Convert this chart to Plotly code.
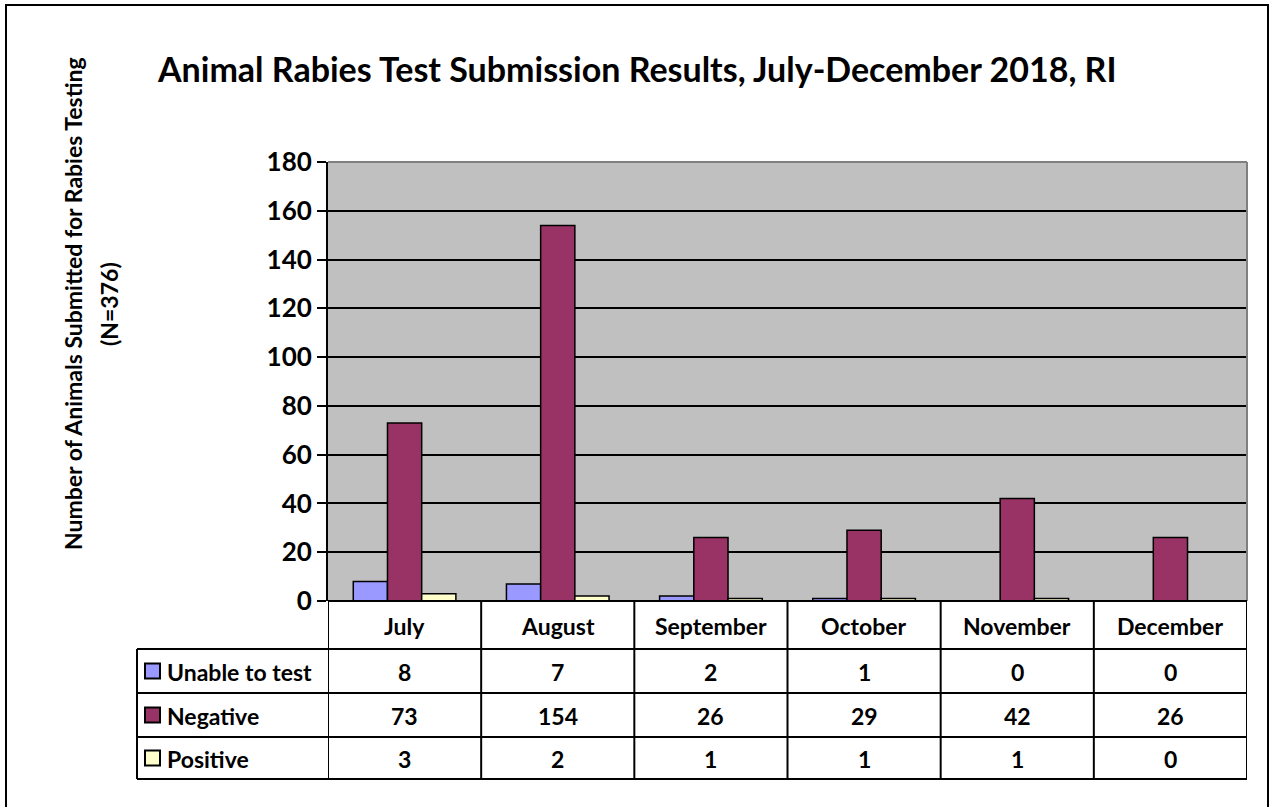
import plotly.graph_objects as go

months = ["July", "August", "September", "October", "November", "December"]
series_names = ["Unable to test", "Negative", "Positive"]
unable = [8, 7, 2, 1, 0, 0]
negative = [73, 154, 26, 29, 42, 26]
positive = [3, 2, 1, 1, 1, 0]
colors = ["#9999FF", "#993366", "#FFFFCC"]
y_ticks = [0, 20, 40, 60, 80, 100, 120, 140, 160, 180]
title = "Animal Rabies Test Submission Results, July-December 2018, RI"
ytitle_1 = "Number of Animals Submitted for Rabies Testing"
ytitle_2 = "(N=376)"

W, H = 1273, 807
L, R, T, B = 328, 1247, 162, 601
FONT = "Lato"

def px_x(p):
    return (p - L) / (R - L)

def px_y(p):
    return (B - p) / (B - T)

series_vals = [unable, negative, positive]
xs = list(range(len(months)))

fig = go.Figure()
for name, vals, col in zip(series_names, series_vals, colors):
    fig.add_trace(go.Bar(x=xs, y=vals, name=name, marker=dict(color=col, line=dict(color="black", width=1.5)),
                         showlegend=False))

shapes = []
annotations = []

# outer border
shapes.append(dict(type="rect", xref="paper", yref="paper", x0=px_x(6), x1=px_x(1268), y0=px_y(830), y1=px_y(5),
                   line=dict(color="black", width=2), fillcolor="rgba(0,0,0,0)", layer="below"))
# top & right borders of plot area (gray)
shapes.append(dict(type="line", xref="paper", yref="paper", x0=0, x1=1, y0=1, y1=1, line=dict(color="#808080", width=2), layer="above"))
shapes.append(dict(type="line", xref="paper", yref="paper", x0=1, x1=1, y0=0, y1=1, line=dict(color="#808080", width=2), layer="above"))

# table geometry (pixels)
row_lines = [601, 649, 693, 737, 779]
tbl_left = 137
lw = 2
for i in range(len(months) + 1):
    shapes.append(dict(type="line", xref="x", yref="paper", x0=i - 0.5, x1=i - 0.5, y0=px_y(601), y1=px_y(row_lines[-1]),
                       line=dict(color="black", width=lw)))
shapes.append(dict(type="line", xref="paper", yref="paper", x0=px_x(tbl_left), x1=px_x(tbl_left), y0=px_y(row_lines[1]),
                   y1=px_y(row_lines[-1]), line=dict(color="black", width=lw)))
for k, ry in enumerate(row_lines):
    x0 = 0 if k == 0 else px_x(tbl_left)
    shapes.append(dict(type="line", xref="paper", yref="paper", x0=x0, x1=1, y0=px_y(ry), y1=px_y(ry),
                       line=dict(color="black", width=lw)))

cell_font = dict(family=FONT, size=23, color="black")
for i, m in enumerate(months):
    annotations.append(dict(x=i, y=px_y((row_lines[0] + row_lines[1]) / 2 + 1), xref="x", yref="paper", text="<b>%s</b>" % m,
                            showarrow=False, font=cell_font, xanchor="center", yanchor="middle"))
for r, (name, vals, col) in enumerate(zip(series_names, series_vals, colors)):
    cy = (row_lines[r + 1] + row_lines[r + 2]) / 2
    for i, v in enumerate(vals):
        annotations.append(dict(x=i, y=px_y(cy + 1), xref="x", yref="paper", text="<b>%d</b>" % v,
                                showarrow=False, font=cell_font, xanchor="center", yanchor="middle"))
    shapes.append(dict(type="rect", xref="paper", yref="paper", x0=px_x(145), x1=px_x(160), y0=px_y(cy + 7.5), y1=px_y(cy - 7.5),
                       fillcolor=col, line=dict(color="black", width=2)))
    annotations.append(dict(x=px_x(165), y=px_y(cy + 1), xref="paper", yref="paper", text="<b>%s</b>" % name,
                            showarrow=False, font=cell_font, xanchor="left", yanchor="middle"))

annotations.append(dict(x=px_x(637), y=px_y(68), xref="paper", yref="paper", text="<b>%s</b>" % title,
                        showarrow=False, font=dict(family=FONT, size=34, color="black"), xanchor="center", yanchor="middle"))
annotations.append(dict(x=px_x(73), y=px_y(304), xref="paper", yref="paper", text="<b>%s</b>" % ytitle_1,
                        showarrow=False, textangle=-90, font=dict(family=FONT, size=23, color="black"),
                        xanchor="center", yanchor="middle"))
annotations.append(dict(x=px_x(109), y=px_y(304), xref="paper", yref="paper", text="<b>%s</b>" % ytitle_2,
                        showarrow=False, textangle=-90, font=dict(family=FONT, size=23, color="black"),
                        xanchor="center", yanchor="middle"))

fig.update_layout(
    width=W, height=H,
    margin=dict(l=L, r=W - R, t=T, b=H - B),
    paper_bgcolor="white", plot_bgcolor="#C0C0C0",
    barmode="group", bargap=0.33, bargroupgap=0,
    shapes=shapes, annotations=annotations,
    xaxis=dict(range=[-0.5, len(months) - 0.5], showticklabels=False, showgrid=False, zeroline=False,
               showline=False, ticks=""),
    yaxis=dict(range=[0, 180], tickvals=y_ticks, ticktext=["<b>%d</b>" % v for v in y_ticks],
               showgrid=True, gridcolor="black", gridwidth=2, zeroline=False,
               showline=True, linecolor="black", linewidth=2, ticks="outside", ticklen=9, tickwidth=2,
               tickcolor="black", tickfont=dict(family=FONT, size=26, color="black")),
)

fig.write_html("out.html", config={"displayModeBar": False},
               post_script="document.body.style.margin='0px';")
